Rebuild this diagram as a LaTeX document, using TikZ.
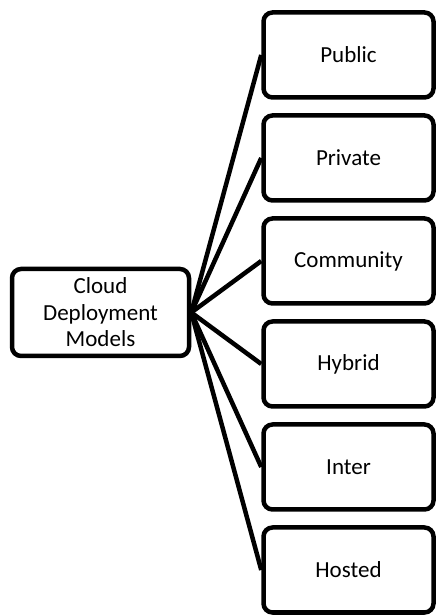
\documentclass[tikz,border=0pt]{standalone}
\usepackage{fontspec}
\setmainfont{Carlito}
\begin{document}
\begin{tikzpicture}[x=1pt,y=1pt,
  box/.style={draw=black, line width=4.5pt, rounded corners=9pt, fill=white, align=center,
    font=\fontsize{23}{26.5}\selectfont, inner sep=0pt},
  rbox/.style={box, minimum width=170pt, minimum height=85pt},
  conn/.style={line width=4.5pt, draw=black}]
\useasboundingbox (0,0) rectangle (438,615);
\node[box, minimum width=177pt, minimum height=87pt] (root) at (100.5,302.5) {Cloud\\Deployment\\Models};
\node[rbox] (pub) at (348.5,560) {Public};
\node[rbox] (pri) at (348.5,457) {Private};
\node[rbox] (com) at (348.5,354) {Community};
\node[rbox] (hyb) at (348.5,251) {Hybrid};
\node[rbox] (int) at (348.5,148) {Inter};
\node[rbox] (hos) at (348.5,45) {Hosted};
\foreach \n in {pub,pri,com,hyb,int,hos}
  \draw[conn] (root.east) -- (\n.west);
\end{tikzpicture}
\end{document}
